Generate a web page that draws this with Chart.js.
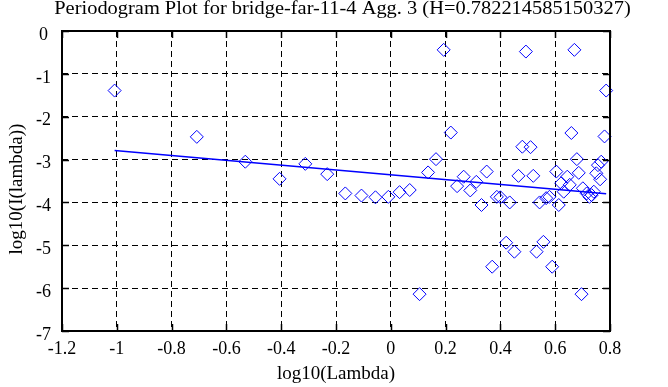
<!DOCTYPE html>
<html>
<head>
<meta charset="utf-8">
<script src="https://cdn.jsdelivr.net/npm/chart.js@4/dist/chart.umd.min.js"></script>
<style>
html,body{margin:0;padding:0;background:#ffffff;}
#wrap{width:668px;height:387px;position:relative;}
</style>
</head>
<body>
<div id="wrap"><canvas id="c" width="668" height="387"></canvas></div>
<script>
const titleText = 'Periodogram Plot for bridge-far-11-4 Agg. 3 (H=0.782214585150327)';
const xTitle = 'log10(Lambda)';
const yTitle = 'log10(I(lambda))';

const logLambda = [-1.008, -0.708, -0.531, -0.406, -0.312, -0.232, -0.166, -0.107, -0.056, -0.009,
  0.032, 0.069, 0.105, 0.136, 0.165, 0.193, 0.219, 0.242, 0.266, 0.290,
  0.312, 0.331, 0.350, 0.370, 0.387, 0.400, 0.421, 0.434, 0.451, 0.466,
  0.480, 0.493, 0.510, 0.520, 0.532, 0.543, 0.557, 0.567, 0.579, 0.589,
  0.604, 0.613, 0.622, 0.631, 0.644, 0.653, 0.659, 0.670, 0.679, 0.686,
  0.696, 0.701, 0.715, 0.725, 0.733, 0.741, 0.750, 0.756, 0.764, 0.768,
  0.780, 0.786];
const logPeriodogram = [-1.39, -2.47, -3.05, -3.45, -3.10, -3.34, -3.79, -3.84, -3.88, -3.87,
  -3.76, -3.71, -6.14, -3.30, -2.99, -0.44, -2.37, -3.62, -3.40, -3.72,
  -3.52, -4.06, -3.28, -5.50, -3.87, -3.88, -4.94, -4.00, -5.15, -3.38,
  -2.70, -0.48, -2.71, -3.38, -5.15, -4.00, -4.92, -3.90, -3.87, -5.50,
  -3.28, -4.06, -3.55, -3.75, -3.40, -3.59, -2.38, -0.44, -2.99, -3.31,
  -6.14, -3.67, -3.79, -3.87, -3.83, -3.75, -3.32, -3.13, -3.46, -3.05,
  -2.46, -1.39];

const fitX = [-1.008, 0.786];
const fitY = [-2.79, -3.80];

const xTickValues = [-1.2, -1, -0.8, -0.6, -0.4, -0.2, 0, 0.2, 0.4, 0.6, 0.8];
const xTickLabels = ['-1.2', '-1', '-0.8', '-0.6', '-0.4', '-0.2', '0', '0.2', '0.4', '0.6', '0.8'];
const yTickValues = [-7, -6, -5, -4, -3, -2, -1, 0];
const yTickLabels = ['-7', '-6', '-5', '-4', '-3', '-2', '-1', '0'];

const FONT = '"Liberation Serif", "Times New Roman", serif';
const BLUE = '#0000ff';

const points = logLambda.map((x, i) => ({x: x, y: logPeriodogram[i]}));
const fitLine = fitX.map((x, i) => ({x: x, y: fitY[i]}));

const framePlugin = {
  id: 'frame',
  afterDraw(chart) {
    const ctx = chart.ctx;
    const a = chart.chartArea;
    const xs = chart.scales.x, ys = chart.scales.y;
    ctx.save();
    ctx.strokeStyle = '#000';
    ctx.lineWidth = 1.5;
    const tl = 7;
    xs.ticks.forEach(t => {
      const px = Math.round(xs.getPixelForValue(t.value)) + 0.5;
      ctx.beginPath();
      ctx.moveTo(px, a.bottom); ctx.lineTo(px, a.bottom - tl);
      ctx.moveTo(px, a.top); ctx.lineTo(px, a.top + tl);
      ctx.stroke();
    });
    ys.ticks.forEach(t => {
      const py = Math.round(ys.getPixelForValue(t.value)) + 0.5;
      ctx.beginPath();
      ctx.moveTo(a.left, py); ctx.lineTo(a.left + tl, py);
      ctx.moveTo(a.right, py); ctx.lineTo(a.right - tl, py);
      ctx.stroke();
    });
    ctx.lineWidth = 2;
    ctx.strokeRect(a.left, a.top, a.right - a.left, a.bottom - a.top);
    ctx.fillStyle = '#000';
    ctx.textAlign = 'center';
    // main title (slightly widened like the reference)
    ctx.save();
    ctx.font = '19px ' + FONT;
    ctx.textBaseline = 'alphabetic';
    ctx.translate(342.5, 14);
    ctx.scale(1.075, 1);
    ctx.fillText(titleText, 0, 0);
    ctx.restore();
    // y axis title
    ctx.save();
    ctx.font = '19px ' + FONT;
    ctx.textBaseline = 'middle';
    ctx.translate(17, 189);
    ctx.rotate(-Math.PI / 2);
    ctx.fillText(yTitle, 0, 0);
    ctx.restore();
    ctx.restore();
  }
};

new Chart(document.getElementById('c'), {
  type: 'scatter',
  data: {
    datasets: [
      {
        label: 'fit',
        data: fitLine,
        showLine: true,
        borderColor: BLUE,
        borderWidth: 1.5,
        pointRadius: 0,
        fill: false,
        order: 2
      },
      {
        label: 'periodogram',
        data: points,
        showLine: false,
        pointStyle: 'rectRot',
        pointRadius: 6.5,
        pointHoverRadius: 6.5,
        pointBorderWidth: 1,
        pointBorderColor: BLUE,
        pointBackgroundColor: 'rgba(0,0,0,0)',
        clip: false,
        order: 1
      }
    ]
  },
  options: {
    responsive: false,
    animation: false,
    events: [],
    layout: {padding: {top: 31, right: 58, bottom: 0, left: 0}},
    plugins: {
      legend: {display: false},
      title: {display: false},
      tooltip: {enabled: false}
    },
    scales: {
      x: {
        type: 'linear',
        min: -1.2,
        max: 0.8,
        afterBuildTicks(scale) { scale.ticks = xTickValues.map(v => ({value: v})); },
        afterFit(scale) { scale.height = 56; },
        ticks: {
          autoSkip: false,
          maxRotation: 0,
          padding: 7,
          color: '#000',
          font: {family: FONT, size: 18},
          callback: (v, i) => xTickLabels[i]
        },
        grid: {color: '#000', lineWidth: 1, drawTicks: false},
        border: {display: false, dash: [6, 4]},
        title: {display: true, text: xTitle, color: '#000', font: {family: FONT, size: 19}, padding: {top: 0, bottom: 2}}
      },
      y: {
        type: 'linear',
        min: -7,
        max: 0,
        afterBuildTicks(scale) { scale.ticks = yTickValues.map(v => ({value: v})); },
        afterFit(scale) { scale.width = 62; },
        ticks: {
          autoSkip: false,
          padding: 11,
          crossAlign: 'center',
          labelOffset: 4,
          color: '#000',
          font: {family: FONT, size: 18},
          callback: (v, i) => yTickLabels[i]
        },
        grid: {color: '#000', lineWidth: 1, drawTicks: false},
        border: {display: false, dash: [6, 4]},
        title: {display: false, text: yTitle}
      }
    }
  },
  plugins: [framePlugin]
});
</script>
</body>
</html>
